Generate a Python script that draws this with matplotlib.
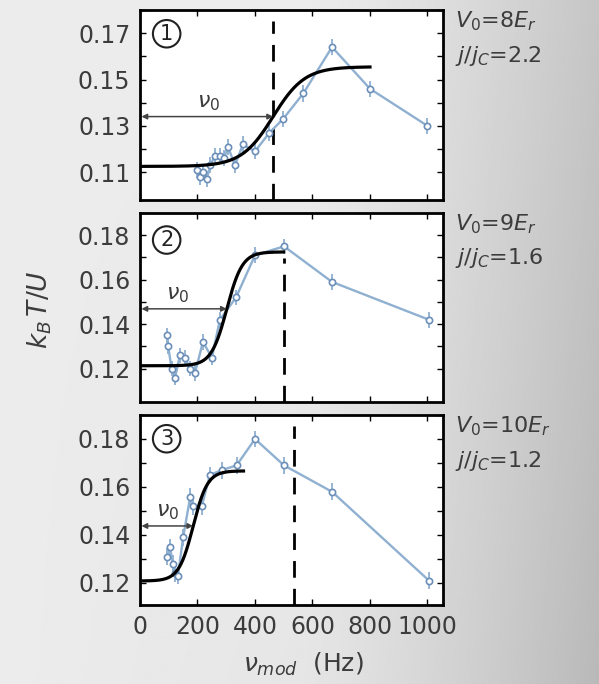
import numpy as np
import matplotlib
matplotlib.use("Agg")
import matplotlib.pyplot as plt

# ====== DATA ======
x1 = [200, 210, 220, 232, 245, 260, 278, 292, 306, 330, 358, 400, 450, 498, 568, 668, 800, 1000]
y1 = [0.111, 0.108, 0.110, 0.107, 0.113, 0.117, 0.117, 0.116, 0.121, 0.113, 0.122, 0.119, 0.127, 0.133, 0.144, 0.164, 0.146, 0.130]

x2 = [93, 98, 110, 122, 139, 156, 174, 191, 219, 250, 278, 334, 400, 501, 668, 1005]
y2 = [0.135, 0.130, 0.120, 0.116, 0.126, 0.125, 0.120, 0.118, 0.132, 0.125, 0.142, 0.152, 0.171, 0.175, 0.159, 0.142]

x3 = [93, 104, 114, 122, 132, 150, 175, 185, 215, 243, 284, 336, 400, 501, 668, 1005]
y3 = [0.131, 0.135, 0.128, 0.124, 0.123, 0.139, 0.156, 0.152, 0.152, 0.165, 0.167, 0.169, 0.180, 0.169, 0.158, 0.121]

# fit parameters: baseline, amplitude, centre (nu_0), width, end of fit
fit_params = [
    (0.1125, 0.0430, 463, 55, 800),
    (0.1213, 0.0512, 302, 27, 500),
    (0.1208, 0.0459, 185, 25, 360),
]
dash_x = [463, 501, 536]
dash_top = [0.94, 0.76, 0.94]
v0_labels = [r"$V_0$=8$E_r$", r"$V_0$=9$E_r$", r"$V_0$=10$E_r$"]
j_labels = [r"$j/j_C$=2.2", r"$j/j_C$=1.6", r"$j/j_C$=1.2"]
panel_ids = ["1", "2", "3"]
ylims = [(0.098, 0.174), (0.105, 0.1838), (0.1108, 0.19)]
yticks = [[0.11, 0.13, 0.15, 0.17], [0.12, 0.14, 0.16, 0.18], [0.12, 0.14, 0.16, 0.18]]
nu_label_x = [237, 130, 97]
err = 0.0035

# ====== STYLE ======
plt.rcParams["font.family"] = ["DejaVu Sans"]
plt.rcParams["mathtext.fontset"] = "dejavusans"
txt_col = "#3c3c3c"
data_col = "#8fb0d0"
mark_col = "#6b8fb8"

W, H = 599, 684
fig = plt.figure(figsize=(W / 100, H / 100), dpi=100)

# gray gradient background
bg = fig.add_axes([0, 0, 1, 1], zorder=-10)
gx = np.linspace(0, 1, 300)
gy = np.linspace(0, 1, 300)
GX, GY = np.meshgrid(gx, gy)
shade = 0.925 - 0.15 * np.clip((GX - 0.5) / 0.5, 0, 1) ** 1.3 - 0.05 * GX * GY
bg.imshow(shade, cmap="gray", vmin=0, vmax=1, extent=[0, 1, 0, 1], aspect="auto", origin="upper")
bg.axis("off")

tops = [10, 213, 415]
bottoms = [200, 402, 605]
left_px, right_px = 140, 443

xs = [x1, x2, x3]
ys = [y1, y2, y3]
for i in range(3):
    ax = fig.add_axes([left_px / W, 1 - bottoms[i] / H, (right_px - left_px) / W, (bottoms[i] - tops[i]) / H])
    ax.set_facecolor("white")

    # data with error bars
    ax.errorbar(xs[i], ys[i], yerr=err, color=data_col, lw=1.7, elinewidth=1.3,
                marker="o", ms=4.5, mfc="white", mec=mark_col, mew=1.2, capsize=0, zorder=3)

    # fit curve
    base, amp, x0, w, xend = fit_params[i]
    xf = np.linspace(0, xend, 400)
    ax.plot(xf, base + amp / (1 + np.exp(-(xf - x0) / w)), color="black", lw=2.3, zorder=4)

    # dashed line
    ax.axvline(dash_x[i], ymin=0, ymax=dash_top[i], color="black", lw=2, dashes=(6, 4), zorder=2)

    # nu_0 arrow
    ya = base + amp / 2
    ax.annotate("", xy=(5, ya), xytext=(x0, ya),
                arrowprops=dict(arrowstyle="<|-|>", color="#444444", lw=1.1,
                                mutation_scale=8, shrinkA=0, shrinkB=0), zorder=5)
    ax.text(nu_label_x[i], ya + 0.0015, r"$\nu_0$", ha="center", va="bottom",
            fontsize=16, color=txt_col)

    # circled panel number
    ax.text(0.088, 0.875 if i != 1 else 0.857, panel_ids[i], transform=ax.transAxes,
            ha="center", va="center", fontsize=15, color="#222222",
            bbox=dict(boxstyle="circle,pad=0.18", fc="white", ec="#222222", lw=1.5))

    # right labels
    ax.text(1.04, 0.94, v0_labels[i], transform=ax.transAxes, ha="left", va="center",
            fontsize=16, color=txt_col)
    ax.text(1.04, 0.76, j_labels[i], transform=ax.transAxes, ha="left", va="center",
            fontsize=16, color=txt_col)

    ax.set_xlim(0, 1054)
    ax.set_ylim(*ylims[i])
    ax.set_yticks(yticks[i])
    ax.set_yticks(np.array(yticks[i]) + 0.01, minor=True)
    ax.set_xticks([0, 200, 400, 600, 800, 1000])
    ax.tick_params(which="both", direction="in", top=True, right=True, length=4, width=1,
                   labelsize=17, labelcolor=txt_col, pad=7)
    ax.set_yticklabels([f"{t:.2f}" for t in yticks[i]])
    for s in ax.spines.values():
        s.set_linewidth(2)
    if i < 2:
        ax.set_xticklabels([])

fig.text(40 / W, 1 - 310 / H, r"$k_B\,T/U$", rotation=90, ha="center", va="center",
         fontsize=19, color=txt_col)
fig.text(303 / W, 1 - 664 / H, r"$\nu_{mod}$  (Hz)", ha="center", va="center",
         fontsize=18, color=txt_col)

fig.savefig("out.png", dpi=100)
